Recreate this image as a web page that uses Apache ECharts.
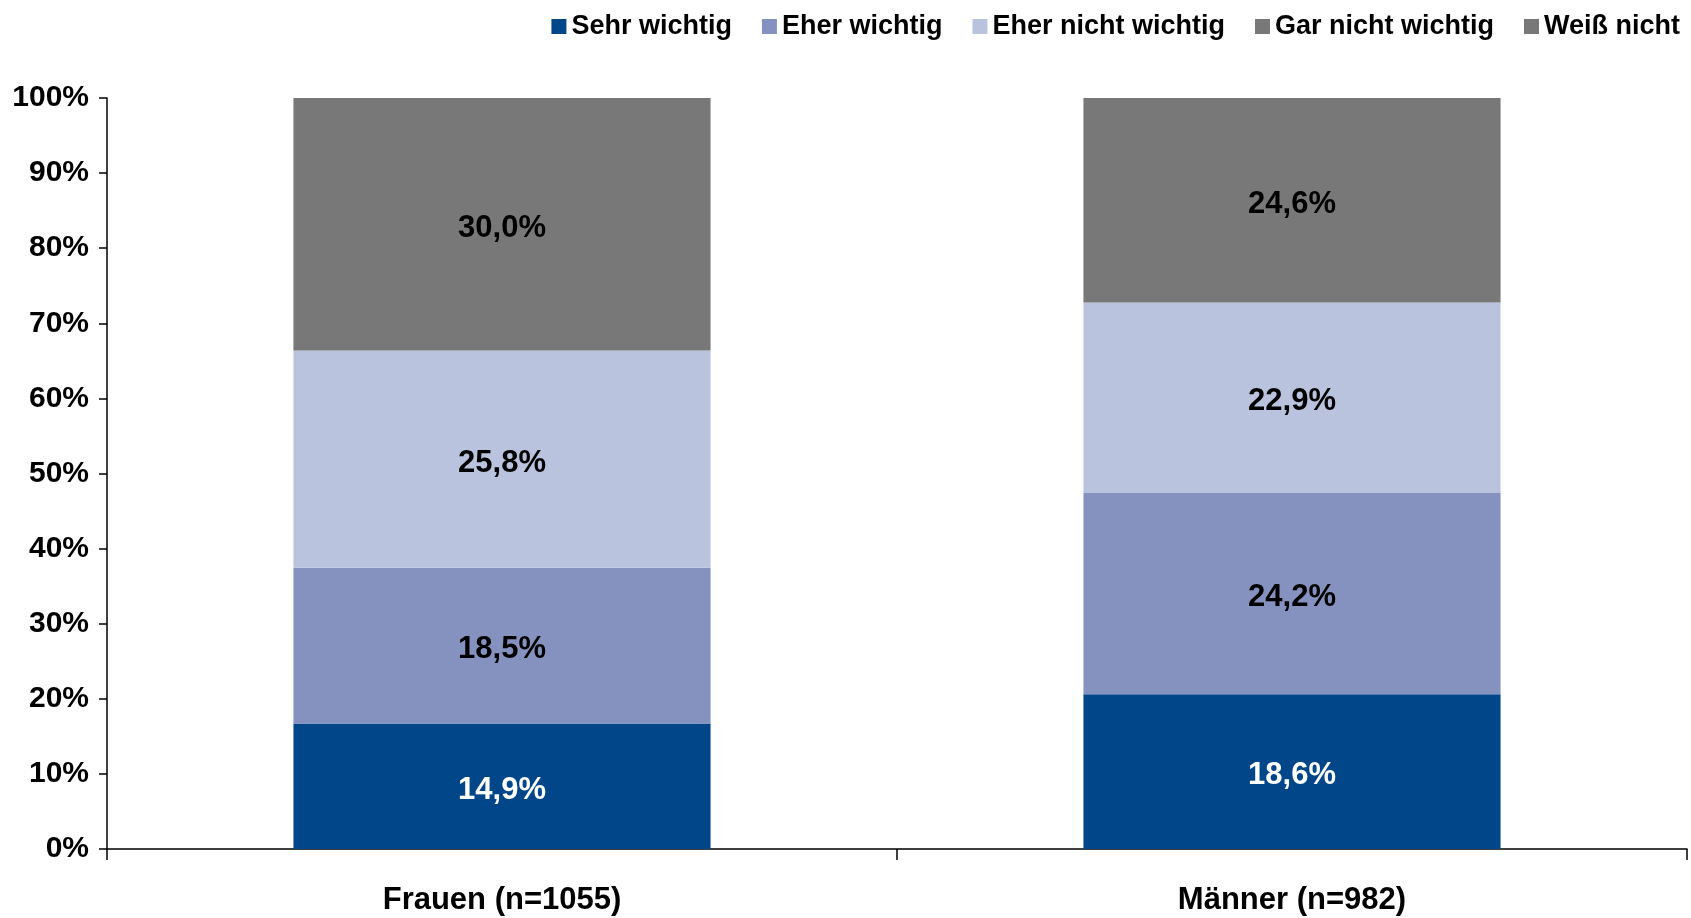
<!DOCTYPE html>
<html>
<head>
<meta charset="utf-8">
<script src="https://cdn.jsdelivr.net/npm/echarts@6/dist/echarts.min.js"></script>
<style>
  html, body { margin: 0; padding: 0; background: #fff; }
  #chart { width: 1691px; height: 918px; }
</style>
</head>
<body>
<div id="chart"></div>
<script>
// Kategorien und Werte (in %, wie beschriftet)
var categories = ['Frauen (n=1055)', 'Männer (n=982)']
var sehrWichtig = [14.9, 18.6]
var eherWichtig = [18.5, 24.2]
var eherNichtWichtig = [25.8, 22.9]
var garNichtWichtig = [30.0, 24.6]
var weissNicht = []

var seriesNames = ['Sehr wichtig', 'Eher wichtig', 'Eher nicht wichtig', 'Gar nicht wichtig', 'Weiß nicht']
var seriesValues = [sehrWichtig, eherWichtig, eherNichtWichtig, garNichtWichtig, weissNicht]
var colors = ['#02468a', '#8592bf', '#b9c3de', '#787878', '#787878']
var labelColors = ['#ffffff', '#000000', '#000000', '#000000', '#000000']

// Balken sind auf 100% normiert, Beschriftung zeigt Originalwert
var totals = categories.map(function (c, i) {
  var s = 0
  seriesValues.forEach(function (arr) { s += arr[i] || 0 })
  return s
})

var font = 'Liberation Sans, Arial, sans-serif'

var series = seriesNames.map(function (name, k) {
  return {
    name: name,
    type: 'bar',
    stack: 'total',
    barWidth: '52.8%',
    itemStyle: { color: colors[k] },
    label: {
      show: true,
      position: 'inside',
      offset: [0, 4],
      color: labelColors[k],
      fontFamily: font,
      fontWeight: 'bold',
      fontSize: 31,
      formatter: function (p) {
        return p.data.raw.toFixed(1).replace('.', ',') + '%'
      }
    },
    data: seriesValues[k].map(function (v, i) {
      return { value: v / totals[i] * 100, raw: v }
    })
  }
})

var chart = echarts.init(document.getElementById('chart'))
chart.setOption({
  animation: false,
  color: colors,
  legend: {
    right: 6,
    top: 8,
    itemWidth: 15,
    itemHeight: 15,
    itemGap: 30,
    icon: 'rect',
    textStyle: { fontFamily: font, fontWeight: 'bold', fontSize: 27, color: '#000' },
    data: seriesNames
  },
  grid: { left: 107, right: 4, top: 98, bottom: 69, containLabel: false },
  xAxis: {
    type: 'category',
    data: categories,
    axisLine: { lineStyle: { color: '#000', width: 1.5 } },
    axisTick: { show: true, alignWithLabel: false, length: 11, lineStyle: { color: '#000', width: 1.5 } },
    axisLabel: { margin: 36, color: '#000', fontFamily: font, fontWeight: 'bold', fontSize: 31 }
  },
  yAxis: {
    type: 'value',
    min: 0,
    max: 100,
    interval: 10,
    splitLine: { show: false },
    axisLine: { show: true, lineStyle: { color: '#000', width: 1.5 } },
    axisTick: { show: true, length: 8, lineStyle: { color: '#000', width: 1.5 } },
    axisLabel: { margin: 18, color: '#000', fontFamily: font, fontWeight: 'bold', fontSize: 30, formatter: '{value}%' }
  },
  series: series
})
</script>
</body>
</html>
